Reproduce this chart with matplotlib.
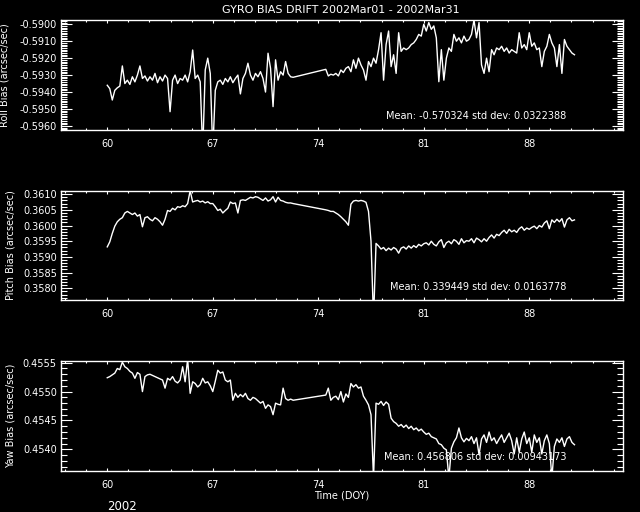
import numpy as np
import matplotlib
matplotlib.use("Agg")
import matplotlib.pyplot as plt
from matplotlib.ticker import FixedLocator, FormatStrFormatter

plt.rcParams['font.family'] = ['DejaVu Sans']

title = "GYRO BIAS DRIFT 2002Mar01 - 2002Mar31"
xlabel = "Time (DOY)"
year_label = "2002"
ylabels = ["Roll Bias (arcsec/sec)", "Pitch Bias (arcsec/sec)", "Yaw Bias (arcsec/sec)"]
stats = ["Mean: -0.570324 std dev: 0.0322388",
         "Mean: 0.339449 std dev: 0.0163778",
         "Mean: 0.456806 std dev: 0.00943173"]
xticks_major = [60, 67, 74, 81, 88]

# sampling times (DOY): two data segments separated by a gap
t_a = np.linspace(60, 72 + 1/3, 75)
t_b = np.linspace(74.5, 91, 100)

roll_a = [
    -0.59360, -0.59380, -0.59447, -0.59390, -0.59375, -0.59365,
    -0.59246, -0.59350, -0.59330, -0.59355, -0.59310, -0.59340,
    -0.59300, -0.59246, -0.59320, -0.59305, -0.59335, -0.59310,
    -0.59330, -0.59290, -0.59345, -0.59310, -0.59335, -0.59300,
    -0.59320, -0.59516, -0.59330, -0.59300, -0.59350, -0.59320,
    -0.59330, -0.59300, -0.59340, -0.59280, -0.59152, -0.59320,
    -0.59300, -0.59340, -0.59750, -0.59270, -0.59200, -0.59290,
    -0.59750, -0.59390, -0.59340, -0.59330, -0.59355, -0.59320,
    -0.59340, -0.59310, -0.59345, -0.59320, -0.59300, -0.59411,
    -0.59320, -0.59290, -0.59230, -0.59300, -0.59330, -0.59290,
    -0.59310, -0.59280, -0.59320, -0.59400, -0.59171, -0.59260,
    -0.59486, -0.59210, -0.59330, -0.59280, -0.59300, -0.59220,
    -0.59290, -0.59310, -0.59313,
]
roll_b = [
    -0.59266, -0.59305, -0.59295,
    -0.59300, -0.59290, -0.59305, -0.59270, -0.59285, -0.59260,
    -0.59250, -0.59280, -0.59210, -0.59260, -0.59200, -0.59240,
    -0.59270, -0.59330, -0.59220, -0.59250, -0.59200, -0.59230,
    -0.59150, -0.59050, -0.59330, -0.59120, -0.59040, -0.59250,
    -0.59180, -0.59290, -0.59050, -0.59160, -0.59140, -0.59150,
    -0.59140, -0.59120, -0.59110, -0.59090, -0.59060, -0.59070,
    -0.59000, -0.59040, -0.58990, -0.59030, -0.59010, -0.59080,
    -0.59339, -0.59150, -0.59330, -0.59200, -0.59140, -0.59160,
    -0.59060, -0.59100, -0.59080, -0.59110, -0.59070, -0.59100,
    -0.59090, -0.59060, -0.58975, -0.59080, -0.58990, -0.59240,
    -0.59290, -0.59200, -0.59280, -0.59150, -0.59180, -0.59140,
    -0.59150, -0.59130, -0.59160, -0.59140, -0.59170, -0.59150,
    -0.59160, -0.59170, -0.59050, -0.59140, -0.59120, -0.59150,
    -0.59050, -0.59130, -0.59110, -0.59150, -0.59140, -0.59250,
    -0.59160, -0.59130, -0.59060, -0.59110, -0.59140, -0.59250,
    -0.59120, -0.59290, -0.59090, -0.59130, -0.59150, -0.59170,
    -0.59180,
]

pitch_a = [
    0.35932, 0.35948, 0.35975, 0.35998, 0.36012, 0.36020,
    0.36025, 0.36040, 0.36045, 0.36040, 0.36035, 0.36040,
    0.36030, 0.36035, 0.35996, 0.36025, 0.36028, 0.36020,
    0.36015, 0.36025, 0.36020, 0.36012, 0.36001, 0.36020,
    0.36048, 0.36045, 0.36055, 0.36050, 0.36060, 0.36058,
    0.36063, 0.36060, 0.36070, 0.36111, 0.36075, 0.36078,
    0.36080, 0.36075, 0.36078, 0.36072, 0.36076, 0.36070,
    0.36070, 0.36060, 0.36048, 0.36052, 0.36040, 0.36048,
    0.36055, 0.36075, 0.36070, 0.36072, 0.36040, 0.36080,
    0.36082, 0.36080, 0.36085, 0.36090, 0.36088, 0.36092,
    0.36090, 0.36085, 0.36080, 0.36088, 0.36078, 0.36082,
    0.36092, 0.36075, 0.36090, 0.36080, 0.36078, 0.36074,
    0.36072, 0.36072, 0.36070,
]
pitch_b = [
    0.36050, 0.36048, 0.36045,
    0.36045, 0.36040, 0.36035, 0.36028, 0.36020, 0.36012,
    0.36001, 0.36068, 0.36078, 0.36080, 0.36078, 0.36080,
    0.36078, 0.36074, 0.36045, 0.35950, 0.35700, 0.35943,
    0.35935, 0.35925, 0.35930, 0.35920, 0.35928, 0.35922,
    0.35930, 0.35925, 0.35912, 0.35928, 0.35932, 0.35925,
    0.35935, 0.35928, 0.35936, 0.35930, 0.35940, 0.35935,
    0.35942, 0.35945, 0.35938, 0.35950, 0.35940, 0.35935,
    0.35948, 0.35955, 0.35930, 0.35945, 0.35950, 0.35942,
    0.35955, 0.35950, 0.35940, 0.35958, 0.35945, 0.35952,
    0.35950, 0.35958, 0.35945, 0.35960, 0.35955, 0.35948,
    0.35958, 0.35950, 0.35962, 0.35970, 0.35960, 0.35972,
    0.35968, 0.35978, 0.35985, 0.35975, 0.35988, 0.35980,
    0.35985, 0.35978, 0.35990, 0.35996, 0.35985, 0.35992,
    0.35988, 0.35994, 0.35998, 0.35990, 0.36000, 0.35995,
    0.36008, 0.36015, 0.35990, 0.36018, 0.36010, 0.36020,
    0.36012, 0.36022, 0.35995, 0.36018, 0.36025, 0.36015,
    0.36018,
]

yaw_a = [
    0.45524, 0.45526, 0.45529, 0.45532, 0.45540, 0.45538,
    0.45551, 0.45543, 0.45540, 0.45535, 0.45532, 0.45523,
    0.45533, 0.45530, 0.45500, 0.45526, 0.45529, 0.45530,
    0.45528, 0.45526, 0.45524, 0.45522, 0.45520, 0.45506,
    0.45523, 0.45520, 0.45526, 0.45518, 0.45515, 0.45520,
    0.45543, 0.45517, 0.45556, 0.45497, 0.45517, 0.45514,
    0.45508, 0.45512, 0.45523, 0.45515, 0.45517, 0.45510,
    0.45500, 0.45518, 0.45537, 0.45532, 0.45534, 0.45520,
    0.45517, 0.45520, 0.45485, 0.45497, 0.45490, 0.45495,
    0.45491, 0.45497, 0.45488, 0.45485, 0.45490, 0.45488,
    0.45484, 0.45480, 0.45483, 0.45471, 0.45477, 0.45474,
    0.45460, 0.45480, 0.45478, 0.45477, 0.45506, 0.45488,
    0.45485, 0.45487, 0.45485,
]
yaw_b = [
    0.45494, 0.45506, 0.45485,
    0.45490, 0.45492, 0.45486, 0.45500, 0.45482, 0.45496,
    0.45490, 0.45514, 0.45508, 0.45512, 0.45506, 0.45508,
    0.45492, 0.45485, 0.45477, 0.45460, 0.45350, 0.45480,
    0.45478, 0.45483, 0.45476, 0.45482, 0.45478, 0.45454,
    0.45448, 0.45445, 0.45440, 0.45443, 0.45438, 0.45442,
    0.45436, 0.45440, 0.45434, 0.45437, 0.45432, 0.45435,
    0.45430, 0.45426, 0.45428, 0.45422, 0.45420, 0.45418,
    0.45410, 0.45408, 0.45402, 0.45399, 0.45350, 0.45402,
    0.45413, 0.45420, 0.45437, 0.45420, 0.45413, 0.45419,
    0.45415, 0.45422, 0.45410, 0.45420, 0.45391, 0.45418,
    0.45425, 0.45412, 0.45430, 0.45415, 0.45420, 0.45410,
    0.45418, 0.45425, 0.45412, 0.45420, 0.45428, 0.45415,
    0.45392, 0.45420, 0.45395, 0.45418, 0.45430, 0.45410,
    0.45420, 0.45395, 0.45425, 0.45412, 0.45420, 0.45392,
    0.45415, 0.45425, 0.45410, 0.45350, 0.45405, 0.45418,
    0.45412, 0.45420, 0.45405, 0.45418, 0.45422, 0.45412,
    0.45408,
]

series = [(roll_a, roll_b), (pitch_a, pitch_b), (yaw_a, yaw_b)]
ylims = [(-0.59624, -0.58972), (0.357627, 0.36111), (0.453625, 0.455535)]
ymajor = [np.arange(-0.5960, -0.58995, 0.001),
          np.arange(0.3580, 0.36105, 0.0005),
          np.arange(0.4540, 0.45555, 0.0005)]
yminor_step = 0.0001
xlim = (56.93, 94.22)

W, H = 640, 512
fig = plt.figure(figsize=(6.4, 5.12), dpi=100, facecolor='black')

# axes boxes in pixels: (left, top, right, bottom)
boxes = [(61, 19.5, 623, 130), (61, 190.7, 623, 300), (61, 360.7, 623, 471)]
ylabel_x = [5, 11, 11]
stat_y = [116, 287, 457.5]

for i, (box, (ya, yb)) in enumerate(zip(boxes, series)):
    l, t, r, b = box
    ax = fig.add_axes([l / W, (H - b) / H, (r - l) / W, (b - t) / H])
    ax.set_facecolor('black')
    t_all = np.concatenate([t_a[:len(ya)], t_b[:len(yb)]])
    y_all = np.concatenate([ya, yb])
    ax.plot(t_all, y_all, color='white', lw=1.0)
    ax.set_xlim(*xlim)
    ax.set_ylim(*ylims[i])
    for s in ax.spines.values():
        s.set_color('white')
        s.set_linewidth(1.0)
    ax.xaxis.set_major_locator(FixedLocator(xticks_major))
    ax.xaxis.set_minor_locator(FixedLocator(np.arange(60 - 1.4 * 2, 95, 1.4)))
    ax.yaxis.set_major_locator(FixedLocator(ymajor[i]))
    lo = ymajor[i][0] - 0.0005
    ax.yaxis.set_minor_locator(FixedLocator(np.arange(lo, ylims[i][1] + 0.0001, yminor_step)))
    ax.yaxis.set_major_formatter(FormatStrFormatter('%.4f'))
    ax.tick_params(which='both', direction='in', colors='white', top=True, right=True,
                   labelsize=7)
    ax.tick_params(axis='y', which='major', length=8, width=0.8, pad=3)
    ax.tick_params(axis='y', which='minor', length=4, width=0.8)
    ax.tick_params(axis='x', which='major', length=2.5, width=0.8, pad=6.5)
    ax.tick_params(axis='x', which='minor', length=1.5, width=0.8)
    fig.text(ylabel_x[i] / W, 1 - ((t + b) / 2) / H, ylabels[i], rotation=90,
             ha='center', va='center', color='white', fontsize=7)
    fig.text(566 / W, 1 - stat_y[i] / H, stats[i], ha='right', va='center',
             color='white', fontsize=7)

fig.text(341 / W, 1 - 10 / H, title, ha='center', va='center', color='white', fontsize=8)
fig.text(342 / W, 1 - 495 / H, xlabel, ha='center', va='center', color='white', fontsize=7)
fig.text(122 / W, 1 - 507 / H, year_label, ha='center', va='center', color='white', fontsize=8.5)

fig.savefig('out.png', dpi=100, facecolor='black')
